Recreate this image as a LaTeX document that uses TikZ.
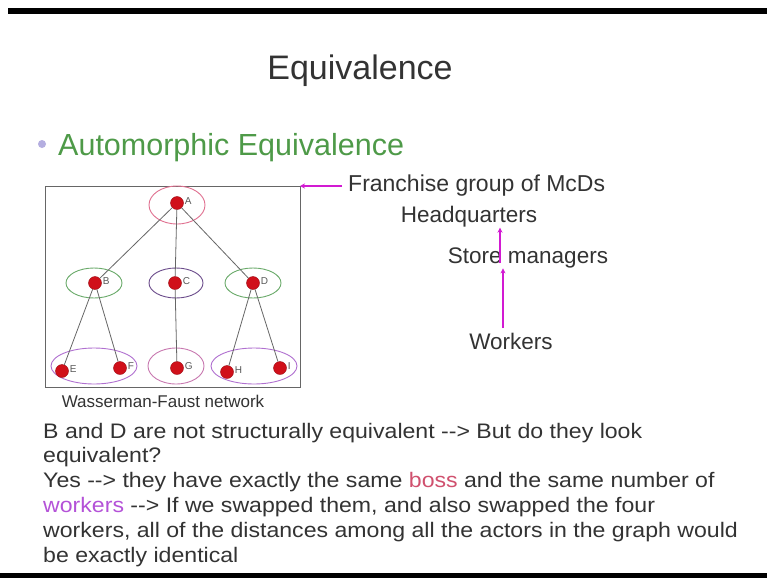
\documentclass[tikz,border=0pt]{standalone}
\usepackage{fontspec}
\setmainfont{Liberation Sans}
\newfontfamily\bodyfont{Liberation Sans}[FakeStretch=1.1]
\usetikzlibrary{arrows.meta,positioning}
\definecolor{txtgray}{HTML}{333333}
\definecolor{headgreen}{HTML}{4E9A48}
\definecolor{bulletlav}{HTML}{B4AEE0}
\definecolor{dotred}{HTML}{D0101A}
\definecolor{arrowmag}{HTML}{D21AD2}
\definecolor{bossred}{HTML}{D0506E}
\definecolor{workpurple}{HTML}{B452D8}
\definecolor{ellred}{HTML}{E07090}
\definecolor{ellgreen}{HTML}{6AAA6A}
\definecolor{elldark}{HTML}{6A4A8A}
\definecolor{ellpurple}{HTML}{B070D0}
\definecolor{ellpink}{HTML}{C878B0}

\begin{document}
\begin{tikzpicture}[x=1pt,y=-1pt,
  every node/.style={text=txtgray,inner sep=0pt},
  dot/.style={circle,fill=dotred,draw=dotred!75!black,minimum size=13pt},
  lbl/.style={font=\fontsize{10}{10}\selectfont,text=black!65,anchor=west},
  edge/.style={black!60,line width=0.8pt},
  grp/.style={line width=0.9pt},
  pa/.style={-{Stealth[length=5pt,width=5pt]},arrowmag,line width=1.8pt},
  side/.style={font=\fontsize{22.5}{22.5}\selectfont},
  body/.style={anchor=base west,font=\bodyfont\fontsize{21}{21}\selectfont}]
  \useasboundingbox (0,0) rectangle (767,578);
  \fill[white] (0,0) rectangle (767,578);
  \fill[black] (8,8) rectangle (767,14);
  \fill[black] (0,573) rectangle (767,578);

  % title and heading
  \node[anchor=base,font=\fontsize{34}{34}\selectfont] (title) at (360,79) {Equivalence};
  \fill[bulletlav] (42,144) circle (4);
  \node[anchor=base west,text=headgreen,font=\fontsize{30.5}{30.5}\selectfont] (head) at (58,155) {Automorphic Equivalence};

  % network
  \draw[black!60,line width=1pt] (45,186) rectangle (300,387);
  \coordinate (boxcorner) at (300,186);
  \draw[grp,ellred] (177,205) ellipse [x radius=28, y radius=19];
  \draw[grp,ellgreen] (94,283) ellipse [x radius=28, y radius=15];
  \draw[grp,elldark] (176,283) ellipse [x radius=27, y radius=15];
  \draw[grp,ellgreen] (253,283) ellipse [x radius=28, y radius=15];
  \draw[grp,ellpurple] (94,366) ellipse [x radius=43, y radius=18];
  \draw[grp,ellpink] (176,366) ellipse [x radius=28, y radius=18];
  \draw[grp,ellpurple] (254,366) ellipse [x radius=43, y radius=18];

  \node[dot] (A) at (177,203) {};
  \node[dot] (B) at (95,283) {};
  \node[dot] (C) at (175,283) {};
  \node[dot] (D) at (253,283) {};
  \node[dot] (E) at (62,371) {};
  \node[dot] (F) at (120,368) {};
  \node[dot] (G) at (177,368) {};
  \node[dot] (H) at (227,372) {};
  \node[dot] (I) at (280,368) {};
  \foreach \n in {A,...,I}{\node[lbl] (l\n) at ([xshift=1pt,yshift=2pt]\n.east) {\n};}

  \foreach \a/\b in {A/B,A/C,A/D,B/E,B/F,C/G,D/H,D/I}{\draw[edge] (\a) -- (\b);}

  \node[font=\fontsize{17}{17}\selectfont] (wf) at (163,401) {Wasserman-Faust network};

  % hierarchy on the right
  \node[side,anchor=west,font=\fontsize{23}{23}\selectfont] (fr) at (348,186) {Franchise group of McDs};
  \node[side] (hq) at (469,217) {Headquarters};
  \node[side] (sm) at (528,258) {Store managers};
  \node[side] (wk) at (511,341) {Workers};
  \draw[pa,line width=2.6pt,shorten <=6pt] (fr) -- (boxcorner);
  \coordinate (wtop) at (503,328);
  \coordinate (stop) at (500,263);
  \draw[pa] (wtop) -- (wtop |- sm.south);
  \draw[pa] (stop) -- (stop |- hq.south);

  % text below
  \node[body] (t1) at (43,438) {B and D are not structurally equivalent -{}-> But do they look};
  \node[body] (t2) at (43,462.8) {equivalent?};
  \node[body] (t3) at (43,487.6) {Yes -{}-> they have exactly the same \textcolor{bossred}{boss} and the same number of};
  \node[body] (t4) at (43,512.4) {\textcolor{workpurple}{workers} -{}-> If we swapped them, and also swapped the four};
  \node[body] (t5) at (43,537.2) {workers, all of the distances among all the actors in the graph would};
  \node[body] (t6) at (43,562) {be exactly identical};
\end{tikzpicture}
\end{document}
